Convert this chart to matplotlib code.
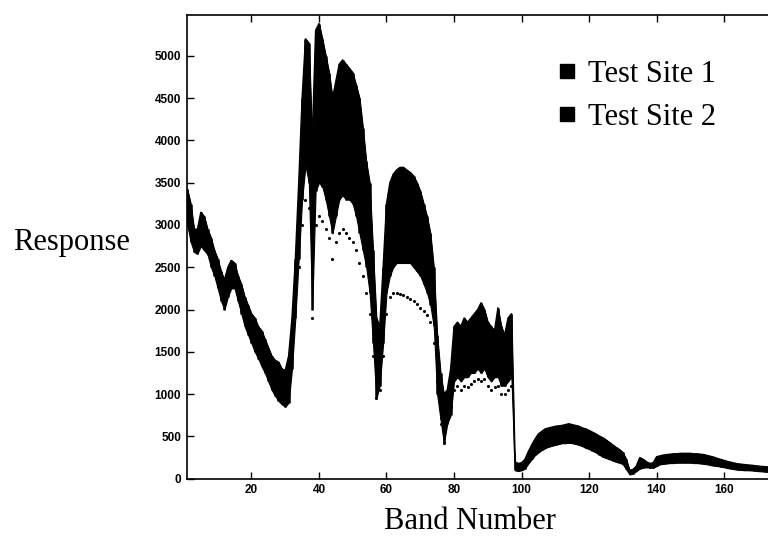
import numpy as np
import matplotlib
matplotlib.use("Agg")
import matplotlib.pyplot as plt
from matplotlib.lines import Line2D

# band numbers 1..173 (the right edge of the scan is cut off)
bands = list(range(1, 174))

# Test Site 1: lower / upper edge of the dense cloud of responses per band
site1_lo = [
    3000, 2800, 2680, 2660, 2750, 2700, 2650, 2500, 2400, 2250,
    2100, 2000, 2150, 2250, 2250, 2100, 1950, 1800, 1700, 1600,
    1500, 1420, 1330, 1250, 1150, 1050, 980, 920, 880, 850,
    900, 1300, 1900, 2600, 3300, 3700, 3500, 2000, 3400, 3500,
    3450, 3300, 3100, 2900, 3100, 3300, 3350, 3300, 3300, 3250,
    3100, 2900, 2700, 2500, 2200, 1600, 950, 1100, 1600, 2200,
    2400, 2500, 2550, 2550, 2550, 2550, 2550, 2500, 2450, 2400,
    2300, 2200, 2050, 1800, 1000, 700, 420, 650, 750, 1150,
    1200, 1150, 1200, 1200, 1250, 1250, 1300, 1250, 1300, 1200,
    1150, 1200, 1200, 1100, 1100, 1150, 1200, 100, 90, 100,
    120, 180, 230, 280, 310, 340, 360, 380, 390, 400,
    410, 420, 420, 425, 420, 410, 400, 385, 365, 350,
    330, 310, 285, 260, 245, 230, 215, 200, 190, 170,
    110, 50, 60, 90, 120, 130, 135, 130, 130, 150,
    170, 175, 180, 185, 185, 190, 190, 190, 190, 190,
    185, 185, 180, 175, 170, 160, 155, 150, 142, 135,
    125, 120, 112, 106, 104, 100, 100, 98, 95, 90,
    87, 84, 82,
]
site1_hi = [
    3420, 3250, 2950, 2950, 3150, 3100, 2950, 2850, 2700, 2600,
    2450, 2350, 2500, 2580, 2550, 2400, 2300, 2150, 2050, 1950,
    1900, 1800, 1750, 1650, 1550, 1450, 1400, 1380, 1300, 1280,
    1450, 1900, 2600, 3500, 4500, 5200, 5150, 4000, 5300, 5380,
    5200, 5000, 4800, 4500, 4700, 4900, 4950, 4900, 4850, 4800,
    4650, 4500, 4150, 3750, 3500, 2700, 1900, 1800, 2500, 3250,
    3500, 3600, 3650, 3680, 3680, 3650, 3620, 3580, 3500, 3400,
    3250, 3100, 2900, 2500, 1700, 1250, 1000, 1050, 1300, 1800,
    1850, 1800, 1900, 1850, 1900, 1950, 2000, 2080, 2000, 1850,
    1800, 1750, 2020, 1800, 1700, 1900, 1950, 200, 180, 190,
    230, 320, 400, 470, 530, 560, 590, 600, 610, 620,
    625, 630, 640, 650, 640, 630, 620, 600, 590, 570,
    550, 530, 505, 485, 460, 430, 400, 370, 345, 310,
    230, 100, 110, 150, 250, 230, 200, 180, 190, 260,
    270, 280, 285, 290, 295, 295, 300, 300, 300, 300,
    295, 295, 290, 285, 275, 265, 255, 240, 228, 215,
    205, 195, 185, 177, 172, 168, 163, 160, 155, 150,
    146, 143, 140,
]

# Test Site 2: the sparser, lower spectrum visible under the cloud
site2_bands = list(range(34, 98))
site2 = [
    2500, 3000, 3300, 3200, 1900, 3000, 3100, 3050, 2950, 2850,
    2600, 2800, 2900, 2950, 2900, 2850, 2800, 2700, 2550, 2400,
    2200, 1950, 1450, 950, 1050, 1450, 1950, 2150, 2200, 2200,
    2180, 2170, 2150, 2120, 2100, 2060, 2020, 1980, 1930, 1850,
    1600, 1150, 650, 420, 700, 850, 1050, 1100, 1050, 1100,
    1080, 1120, 1150, 1180, 1150, 1180, 1100, 1050, 1080, 1100,
    1000, 1000, 1050, 1100,
]

xticks = [20, 40, 60, 80, 100, 120, 140, 160]
yticks = [0, 500, 1000, 1500, 2000, 2500, 3000, 3500, 4000, 4500, 5000]

serif = ["Liberation Serif", "DejaVu Serif"]
sans = ["Liberation Sans", "DejaVu Sans"]

fig = plt.figure(figsize=(7.68, 5.44), dpi=100)
ax = fig.add_axes([0.243, 0.12, 0.757, 0.853])

# dense cloud: filled band plus a vertical streak at every band
ax.fill_between(bands, site1_lo, site1_hi, color="black", lw=0.8)
ax.vlines(bands, site1_lo, site1_hi, color="black", lw=1.8)
ax.plot(bands, site1_hi, color="black", lw=1.0)
ax.scatter(site2_bands, site2, s=5, color="black", lw=0)

ax.set_xlim(0.8, 173.0)
ax.set_ylim(0, 5485)
ax.set_xticks(xticks)
ax.set_yticks(yticks)
ax.tick_params(direction="in", length=5, width=1, top=True, right=False,
               labelsize=8.5, pad=4)
for lab in ax.get_xticklabels() + ax.get_yticklabels():
    lab.set_family(sans)
    lab.set_fontweight("bold")
for side in ["left", "bottom", "top"]:
    ax.spines[side].set_linewidth(1.2)
ax.spines["right"].set_visible(False)

fig.text(0.093, 0.555, "Response", family=serif, fontsize=22,
         ha="center", va="center")
fig.text(0.612, 0.042, "Band Number", family=serif, fontsize=22,
         ha="center", va="center")

handles = [Line2D([], [], ls="none", marker="s", ms=10, color="black"),
           Line2D([], [], ls="none", marker="s", ms=10, color="black")]
ax.legend(handles, ["Test Site 1", "Test Site 2"], loc="upper left",
          bbox_to_anchor=(0.601, 0.935), frameon=False, borderpad=0,
          handlelength=1, handletextpad=0.2, labelspacing=0.45,
          prop={"family": serif, "size": 22})

fig.savefig("out.png", dpi=100)
